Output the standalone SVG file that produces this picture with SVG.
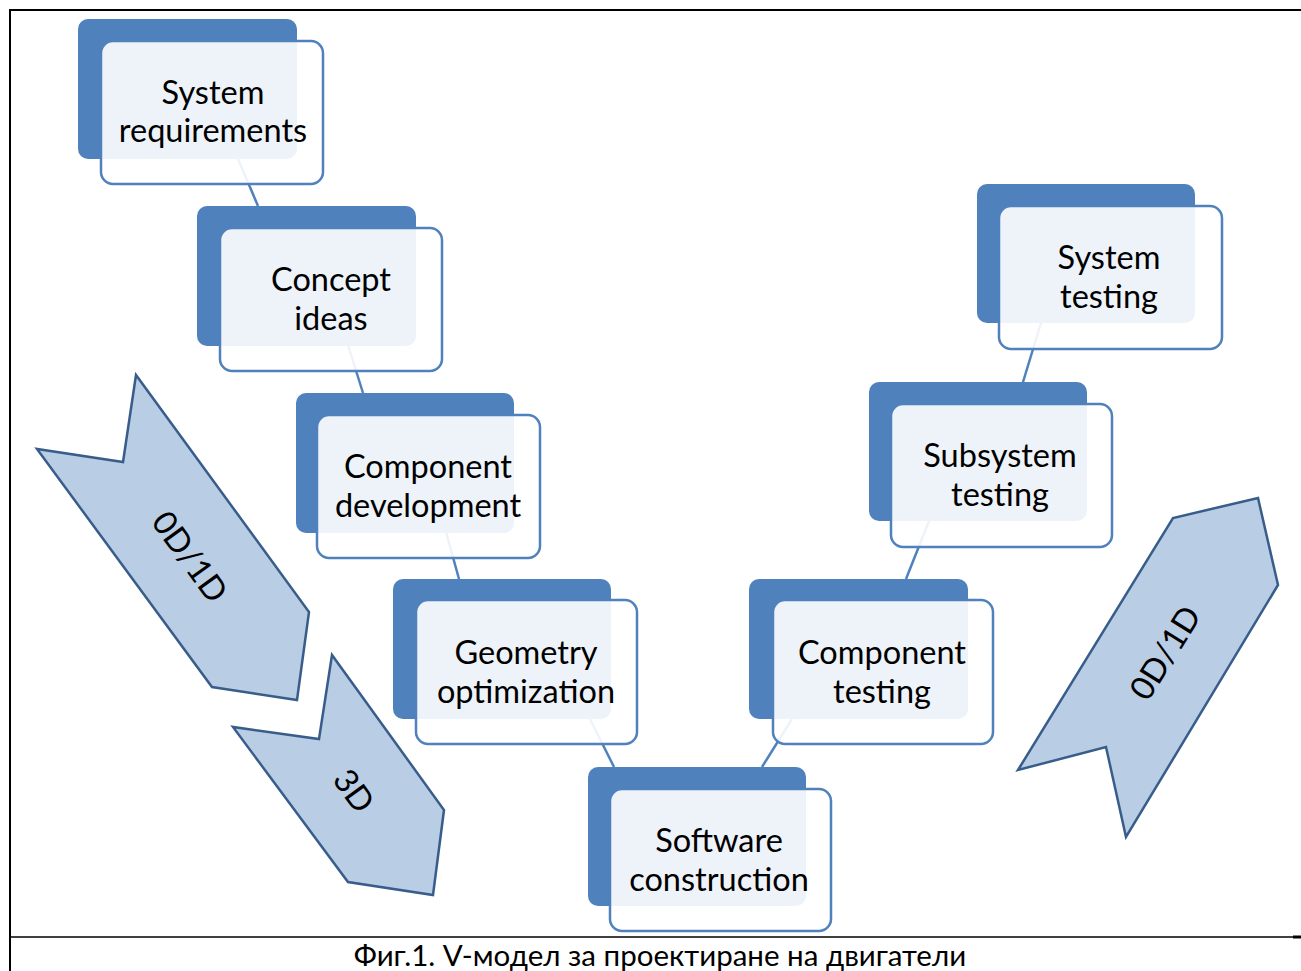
<svg xmlns="http://www.w3.org/2000/svg" width="1301" height="971" viewBox="0 0 1301 971">
<style>
.back{fill:#4F81BD;}
.front{fill:#FFFFFF;fill-opacity:0.9;stroke:#4F81BD;stroke-width:2.5;}
.lbl{font-family:Lato,"Liberation Sans",sans-serif;font-size:32.5px;fill:#000;text-anchor:middle;}
.conn{stroke:#4F81BD;stroke-width:2.5;fill:none;}
.arrow{fill:#B9CDE5;stroke:#385D8A;stroke-width:2.5;stroke-linejoin:miter;}
.atxt{font-family:Lato,"Liberation Sans",sans-serif;font-size:33px;fill:#000;text-anchor:middle;dominant-baseline:central;}
.frame{stroke:#000;fill:none;}
.cap{font-family:Lato,"Liberation Sans",sans-serif;font-size:29.5px;fill:#000;text-anchor:middle;}
</style>
<rect x="0" y="0" width="1301" height="971" fill="#FFFFFF"/>
<g id="frame">
<line class="frame" x1="10" y1="9" x2="10" y2="971" stroke-width="2"/>
<line class="frame" x1="9" y1="10" x2="1301" y2="10" stroke-width="2"/>
<line class="frame" x1="10" y1="937" x2="1301" y2="937" stroke-width="1.5"/>
<rect x="1293" y="935.5" width="8" height="3" fill="#000"/>
</g>
<g id="bands">
<g id="band-left-0d1d">
<polygon class="arrow" points="136,375 123,462 37,449 212,687 297,700 309,612"/>
<text class="atxt" transform="translate(191,556) rotate(54)">0D/1D</text>
</g>
<g id="band-left-3d">
<polygon class="arrow" points="332,655 319,739 233,727 348,882 433,895 444,810"/>
<text class="atxt" transform="translate(355,790) rotate(54)">3D</text>
</g>
<g id="band-right-0d1d">
<polygon class="arrow" points="1126,837 1106,747 1018,770 1173,518 1258,498 1278,585"/>
<text class="atxt" transform="translate(1164,652) rotate(-58)">0D/1D</text>
</g>
</g>
<g id="connectors">
<line class="conn" x1="238" y1="159" x2="258" y2="206"/>
<line class="conn" x1="348" y1="345" x2="363" y2="393"/>
<line class="conn" x1="446" y1="532" x2="459" y2="579"/>
<line class="conn" x1="590" y1="719" x2="614" y2="767"/>
<line class="conn" x1="762" y1="767" x2="792" y2="719"/>
<line class="conn" x1="906" y1="579" x2="929" y2="521"/>
<line class="conn" x1="1023" y1="382" x2="1041" y2="323"/>
</g>
<g id="node-system-requirements">
<rect class="back" x="78" y="19" width="219" height="140" rx="10"/>
<rect class="front" x="101" y="41" width="222" height="143" rx="12"/>
<text class="lbl" x="213" y="104">System</text>
<text class="lbl" x="213" y="142">requirements</text>
</g>
<g id="node-concept-ideas">
<rect class="back" x="197" y="206" width="219" height="140" rx="10"/>
<rect class="front" x="220" y="228" width="222" height="143" rx="12"/>
<text class="lbl" x="331" y="291">Concept</text>
<text class="lbl" x="331" y="330">ideas</text>
</g>
<g id="node-component-development">
<rect class="back" x="296" y="393" width="218" height="140" rx="10"/>
<rect class="front" x="317" y="415" width="223" height="143" rx="12"/>
<text class="lbl" x="428" y="478">Component</text>
<text class="lbl" x="428" y="517">development</text>
</g>
<g id="node-geometry-optimization">
<rect class="back" x="393" y="579" width="218" height="140" rx="10"/>
<rect class="front" x="416" y="600" width="221" height="144" rx="12"/>
<text class="lbl" x="526" y="664">Geometry</text>
<text class="lbl" x="526" y="703">optimization</text>
</g>
<g id="node-software-construction">
<rect class="back" x="588" y="767" width="218" height="139" rx="10"/>
<rect class="front" x="610" y="789" width="221" height="142" rx="12"/>
<text class="lbl" x="719" y="852">Software</text>
<text class="lbl" x="719" y="891">construction</text>
</g>
<g id="node-component-testing">
<rect class="back" x="749" y="579" width="219" height="140" rx="10"/>
<rect class="front" x="773" y="600" width="220" height="144" rx="12"/>
<text class="lbl" x="882" y="664">Component</text>
<text class="lbl" x="882" y="703">testing</text>
</g>
<g id="node-subsystem-testing">
<rect class="back" x="869" y="382" width="218" height="139" rx="10"/>
<rect class="front" x="891" y="404" width="221" height="143" rx="12"/>
<text class="lbl" x="1000" y="467">Subsystem</text>
<text class="lbl" x="1000" y="506">testing</text>
</g>
<g id="node-system-testing">
<rect class="back" x="977" y="184" width="218" height="139" rx="10"/>
<rect class="front" x="999" y="206" width="223" height="143" rx="12"/>
<text class="lbl" x="1109" y="269">System</text>
<text class="lbl" x="1109" y="308">testing</text>
</g>
<text class="cap" x="660" y="966">Фиг.1. V-модел за проектиране на двигатели</text>
</svg>
